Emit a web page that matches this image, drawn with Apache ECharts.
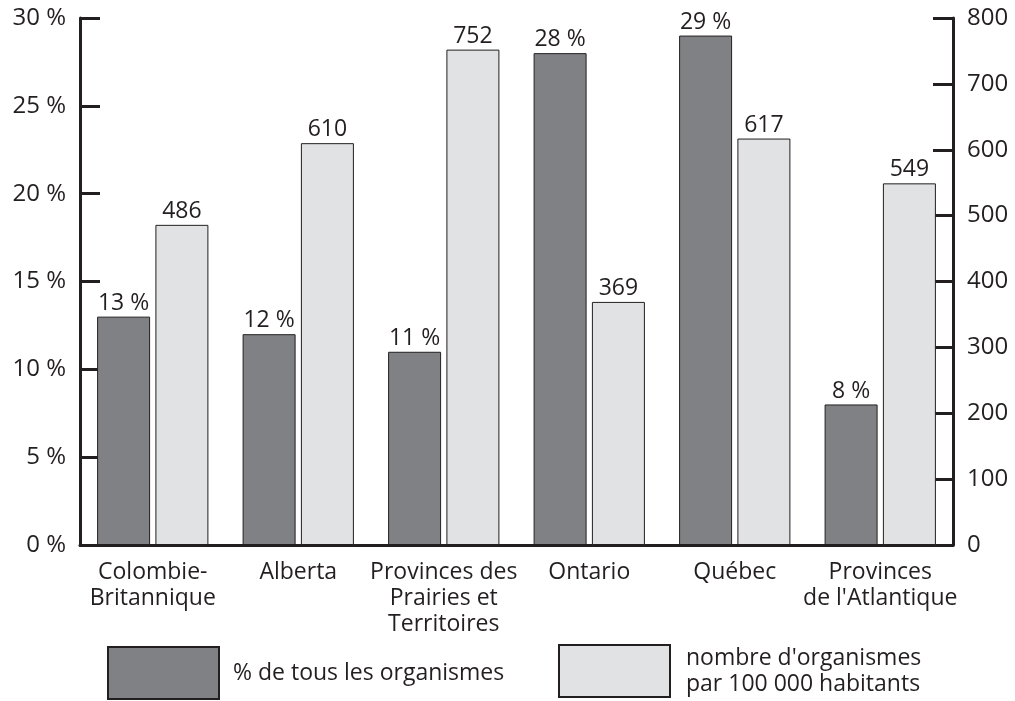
<!DOCTYPE html>
<html>
<head>
<meta charset="utf-8">
<script src="https://cdn.jsdelivr.net/npm/echarts@6/dist/echarts.min.js"></script>
<style>
  html, body { margin: 0; padding: 0; background: #fff; }
  #main { width: 1015px; height: 701px; }
</style>
</head>
<body>
<div id="main"></div>
<script>
// données
var provinces = ['Colombie-\nBritannique', 'Alberta', 'Provinces des\nPrairies et\nTerritoires', 'Ontario', 'Québec', 'Provinces\nde l\'Atlantique'];
var pctOrganismes = [13, 12, 11, 28, 29, 8];
var parHabitants = [486, 610, 752, 369, 617, 549];
var nomsSeries = ['% de tous les organismes', 'nombre d\'organismes\npar 100 000 habitants'];

var myChart = echarts.init(document.getElementById('main'));
var police = '"Open Sans", "DejaVu Sans", sans-serif';
var encre = '#231f20';

option = {
    animation: false,
    textStyle: { fontFamily: police, color: encre },
    grid: { left: 80, right: 62, top: 18, bottom: 156 },
    legend: [
        {
            data: [nomsSeries[0]],
            left: 107, top: 646, padding: 0,
            icon: 'rect',
            itemWidth: 111, itemHeight: 52, itemGap: 0,
            textStyle: { fontSize: 23, color: encre, fontFamily: police, padding: [0, 0, 0, 9] }
        },
        {
            data: [nomsSeries[1]],
            left: 558, top: 644, padding: 0,
            icon: 'rect',
            itemWidth: 111, itemHeight: 52, itemGap: 0,
            textStyle: { fontSize: 23, color: encre, fontFamily: police, lineHeight: 26, padding: [0, 0, 0, 11] }
        }
    ],
    xAxis: {
        type: 'category',
        data: provinces,
        axisLine: { lineStyle: { color: encre, width: 3 } },
        axisTick: { inside: true, length: 12, lineStyle: { color: encre, width: 3 } },
        axisLabel: { fontSize: 23, color: encre, lineHeight: 26, margin: 14, interval: 0 }
    },
    yAxis: [
        {
            type: 'value', min: 0, max: 30, interval: 5,
            splitLine: { show: false },
            axisLine: { show: true, lineStyle: { color: encre, width: 3 } },
            axisTick: { show: true, inside: true, length: 20, lineStyle: { color: encre, width: 3 } },
            axisLabel: { formatter: '{value} %', fontSize: 24, color: encre, margin: 14 }
        },
        {
            type: 'value', min: 0, max: 800, interval: 100,
            splitLine: { show: false },
            axisLine: { show: true, lineStyle: { color: encre, width: 3 } },
            axisTick: { show: true, inside: true, length: 20, lineStyle: { color: encre, width: 3 } },
            axisLabel: { fontSize: 24, color: encre, margin: 14 }
        }
    ],
    series: [
        {
            name: nomsSeries[0],
            type: 'bar',
            yAxisIndex: 0,
            data: pctOrganismes,
            barWidth: 53,
            barGap: '10%',
            itemStyle: { color: '#808184', borderColor: '#231f20', borderWidth: 1 },
            label: { show: true, position: 'top', formatter: '{c} %', fontSize: 23, color: encre, distance: 2 }
        },
        {
            name: nomsSeries[1],
            type: 'bar',
            yAxisIndex: 1,
            data: parHabitants,
            barWidth: 53,
            itemStyle: { color: '#e1e2e4', borderColor: '#231f20', borderWidth: 1 },
            label: { show: true, position: 'top', fontSize: 23, color: encre, distance: 2 }
        }
    ]
};
myChart.setOption(option);
</script>
</body>
</html>
